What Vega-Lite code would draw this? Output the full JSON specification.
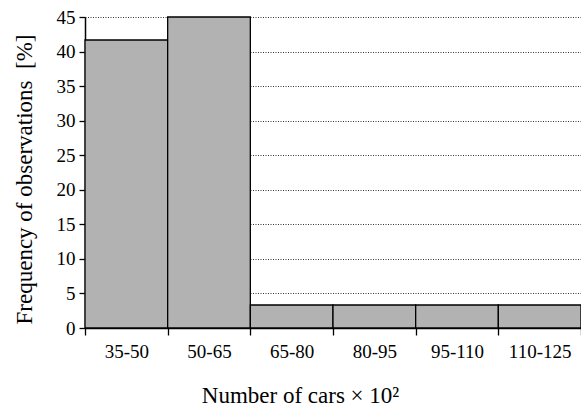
{
  "$schema": "https://vega.github.io/schema/vega-lite/v6.json",
  "width": 496,
  "height": 311,
  "autosize": "none",
  "padding": {"left": 85, "top": 17, "right": 0, "bottom": 84},
  "background": "white",
  "config": {
    "view": {"stroke": null},
    "font": "Liberation Serif"
  },
  "data": {
    "values": [
      {"range": "35-50", "freq": 41.67},
      {"range": "50-65", "freq": 45.0},
      {"range": "65-80", "freq": 3.33},
      {"range": "80-95", "freq": 3.33},
      {"range": "95-110", "freq": 3.33},
      {"range": "110-125", "freq": 3.33}
    ]
  },
  "mark": {"type": "bar", "fill": "#b2b2b2", "stroke": "black", "strokeWidth": 1.3},
  "encoding": {
    "x": {
      "field": "range",
      "type": "nominal",
      "sort": null,
      "scale": {"paddingInner": 0, "paddingOuter": 0},
      "axis": {
        "title": "Number of cars × 10²",
        "titleFont": "Liberation Serif",
        "titleFontSize": 23,
        "titleFontWeight": "normal",
        "titleColor": "black",
        "titleX": 215,
        "titlePadding": 23,
        "labelAngle": 0,
        "labelFont": "Liberation Serif",
        "labelFontSize": 19,
        "labelColor": "black",
        "labelPadding": 7,
        "tickBand": "extent",
        "tickSize": 7,
        "tickColor": "black",
        "tickWidth": 1.3,
        "domainColor": "black",
        "domainWidth": 1.5,
        "grid": false
      }
    },
    "y": {
      "field": "freq",
      "type": "quantitative",
      "scale": {"domain": [0, 45], "nice": false},
      "axis": {
        "title": "Frequency of observations \u00a0[%]",
        "titleFont": "Liberation Serif",
        "titleFontSize": 23,
        "titleFontWeight": "normal",
        "titleColor": "black",
        "titlePadding": 20,
        "titleY": 162,
        "values": [0, 5, 10, 15, 20, 25, 30, 35, 40, 45],
        "labelFont": "Liberation Serif",
        "labelFontSize": 19,
        "labelColor": "black",
        "labelPadding": 4,
        "tickSize": 6,
        "tickColor": "black",
        "tickWidth": 1.3,
        "domainColor": "black",
        "domainWidth": 1.5,
        "grid": true,
        "gridColor": "#333333",
        "gridDash": [1, 1.5],
        "gridWidth": 1
      }
    }
  }
}
